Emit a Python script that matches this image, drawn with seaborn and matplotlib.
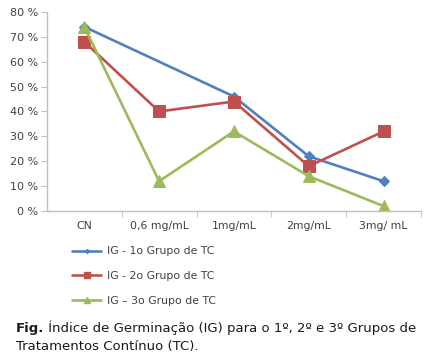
import numpy as np
import pandas
import seaborn
import matplotlib.pyplot as plt
from matplotlib.ticker import FixedLocator, FuncFormatter

categorias = ['CN', '0,6 mg/mL', '1mg/mL', '2mg/mL', '3mg/ mL']
grupo_1 = [74, np.nan, 46, 22, 12]
grupo_2 = [68, 40, 44, 18, 32]
grupo_3 = [74, 12, 32, 14, 2]
series_nomes = ['IG - 1o Grupo de TC', 'IG - 2o Grupo de TC', 'IG \u2013 3o Grupo de TC']
y_ticks = [0, 10, 20, 30, 40, 50, 60, 70, 80]

cores = ['#4F81BD', '#C0504D', '#9BBB59']
marcadores = ['D', 's', '^']
tamanhos = [5, 8, 8]

linhas = []
for nome, valores in zip(series_nomes, [grupo_1, grupo_2, grupo_3]):
    for i, v in enumerate(valores):
        linhas.append({'pos': i, 'valor': v, 'serie': nome})
dados = pandas.DataFrame(linhas).dropna()

seaborn.set_style('white')
plt.rcParams['font.family'] = ['DejaVu Sans']

fig = plt.figure(figsize=(4.3, 3.59), dpi=100)
ax = fig.add_axes([0.109, 0.412, 0.870, 0.555])

handles = []
for nome, cor, m, s in zip(series_nomes, cores, marcadores, tamanhos):
    seaborn.lineplot(data=dados[dados['serie'] == nome], x='pos', y='valor',
                     color=cor, marker=m, markersize=s, markeredgecolor=cor,
                     linewidth=1.9, ax=ax, legend=False)
    handles.append(plt.Line2D([], [], color=cor, marker=m, markersize=s - 3,
                              markeredgecolor=cor, linewidth=1.9, label=nome))

ax.set_xlim(-0.5, 4.5)
ax.set_ylim(0, 80)
ax.set_xticks(range(len(categorias)))
ax.set_xticklabels(categorias)
ax.xaxis.set_minor_locator(FixedLocator([0.5, 1.5, 2.5, 3.5, 4.5]))
ax.set_yticks(y_ticks)
ax.yaxis.set_major_formatter(FuncFormatter(lambda v, p: f'{int(v)} %'))
ax.set_xlabel('')
ax.set_ylabel('')

for lado in ['top', 'right']:
    ax.spines[lado].set_visible(False)
for lado in ['left', 'bottom']:
    ax.spines[lado].set_color('#BFBFBF')
    ax.spines[lado].set_linewidth(1.0)

ax.tick_params(axis='x', which='major', length=0, pad=7, labelsize=7.8, labelcolor='#404040')
ax.tick_params(axis='x', which='minor', length=4, color='#BFBFBF', direction='out', bottom=True)
ax.tick_params(axis='y', length=4, color='#BFBFBF', direction='out', left=True,
               labelsize=8, labelcolor='#404040', pad=2)

fig.legend(handles=handles, loc='upper left', bbox_to_anchor=(0.145, 0.341),
           frameon=False, fontsize=7.8, labelspacing=1.35, handlelength=2.7,
           handletextpad=0.5, numpoints=1, labelcolor='#404040')

# legenda da figura: "Fig." em negrito e o resto normal
t1 = fig.text(0.037, 0.075, 'Fig.', fontsize=9.5, fontweight='bold', color='#1a1a1a')
ax.annotate(' \u00cdndice de Germina\u00e7\u00e3o (IG) para o 1\u00ba, 2\u00ba e 3\u00ba Grupos de',
            xy=(1, 0), xycoords=t1, fontsize=9.5, color='#1a1a1a', va='bottom', ha='left',
            annotation_clip=False)
fig.text(0.037, 0.024, 'Tratamentos Cont\u00ednuo (TC).', fontsize=9.5, color='#1a1a1a')

plt.savefig('out.png', dpi=100)
plt.close()
